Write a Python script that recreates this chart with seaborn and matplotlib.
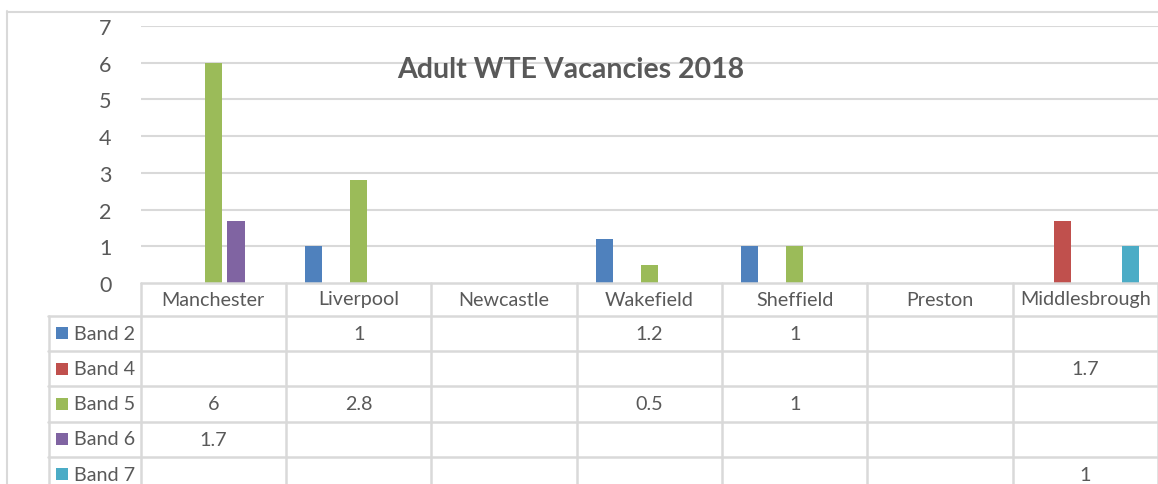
import matplotlib
matplotlib.use("Agg")
import matplotlib.pyplot as plt
from matplotlib.lines import Line2D
from matplotlib.patches import Rectangle
import seaborn as sns
import pandas as pd

cities = ["Manchester", "Liverpool", "Newcastle", "Wakefield", "Sheffield", "Preston", "Middlesbrough"]
bands = ["Band 2", "Band 4", "Band 5", "Band 6", "Band 7"]
band2 = [None, 1, None, 1.2, 1, None, None]
band4 = [None, None, None, None, None, None, 1.7]
band5 = [6, 2.8, None, 0.5, 1, None, None]
band6 = [1.7, None, None, None, None, None, None]
band7 = [None, None, None, None, None, None, 1]
colors = ["#4F81BD", "#C0504D", "#9BBB59", "#8064A2", "#4BACC6"]
yticks = [0, 1, 2, 3, 4, 5, 6, 7]
title = "Adult WTE Vacancies 2018"

series = [band2, band4, band5, band6, band7]
rows = []
for b, vals in zip(bands, series):
    for c, v in zip(cities, vals):
        if v is not None:
            rows.append({"city": c, "band": b, "value": v})
df = pd.DataFrame(rows)

sns.set_theme(style="white")
plt.rcParams["font.family"] = ["Lato", "DejaVu Sans"]
TXT = "#595959"
GRID = "#D9D9D9"

W, H = 1158, 485
fig = plt.figure(figsize=(W / 100, H / 100), dpi=100)

def fx(px):
    return px / W

def fy(py):
    return 1 - py / H

ax_left, ax_right, ax_top, ax_bottom = 140.7, 1158, 27, 284
ax = fig.add_axes([fx(ax_left), fy(ax_bottom), fx(ax_right) - fx(ax_left), fy(ax_top) - fy(ax_bottom)])

sns.barplot(data=df, x="city", y="value", hue="band", order=cities, hue_order=bands,
            palette=colors, width=0.775, gap=0.23, saturation=1, linewidth=0,
            dodge=True, legend=False, ax=ax, zorder=3)

ax.set_xlim(-0.5, len(cities) - 0.5)
ax.set_ylim(0, 7)
ax.set_yticks(yticks)
ax.set_yticklabels([str(t) for t in yticks], fontsize=15.5, color=TXT)
ax.tick_params(axis="y", length=0, pad=21)
ax.set_xticks([])
ax.set_xlabel("")
ax.set_ylabel("")
for s in ax.spines.values():
    s.set_visible(False)
for t in yticks[1:]:
    ax.axhline(t, color=GRID, lw=1.5, zorder=1)

fig.text(fx(571), fy(70), title, ha="center", va="center", fontsize=20.5,
         fontweight="bold", color=TXT)

# Outer chart border
fig.add_artist(Line2D([fx(7), fx(W)], [fy(12.5), fy(12.5)], color=GRID, lw=1.5))
fig.add_artist(Line2D([fx(7.5), fx(7.5)], [fy(12), fy(H)], color=GRID, lw=1.5))

# Data table
row_lines = [284, 316.5, 352, 387, 422.5, 457.5, 493]
xt = ax.get_xaxis_transform()

def ay(py):
    return (ax_bottom - py) / (ax_bottom - ax_top)

# horizontal lines
fig.add_artist(Line2D([fx(ax_left), fx(W)], [fy(284), fy(284)], color=GRID, lw=1.8, zorder=5))
for py in row_lines[1:-1]:
    fig.add_artist(Line2D([fx(48), fx(W)], [fy(py), fy(py)], color=GRID, lw=1.8))
# vertical lines
fig.add_artist(Line2D([fx(48.5), fx(48.5)], [fy(316.5), fy(H)], color=GRID, lw=1.8))
for i in range(len(cities) + 1):
    ax.add_line(Line2D([i - 0.5, i - 0.5], [ay(284), ay(H + 5)], transform=xt,
                       color=GRID, lw=1.8, clip_on=False))

# header labels
for i, c in enumerate(cities):
    ax.text(i, ay(300), c, transform=xt, ha="center", va="center", fontsize=14.2,
            color=TXT, clip_on=False)

# legend column + values
for r, (b, vals, col) in enumerate(zip(bands, series, colors)):
    top = row_lines[r + 1]
    bot = row_lines[r + 2]
    yc = (top + bot) / 2
    fig.add_artist(Rectangle((fx(56), fy(yc + 6)), fx(12), fy(yc - 6) - fy(yc + 6),
                             facecolor=col, edgecolor="none"))
    fig.text(fx(74), fy(yc), b, ha="left", va="center", fontsize=14.2, color=TXT)
    for i, v in enumerate(vals):
        if v is not None:
            ax.text(i, ay(yc), f"{v:g}", transform=xt, ha="center", va="center",
                    fontsize=14.2, color=TXT, clip_on=False)

fig.savefig("out.png", dpi=100, facecolor="white")
